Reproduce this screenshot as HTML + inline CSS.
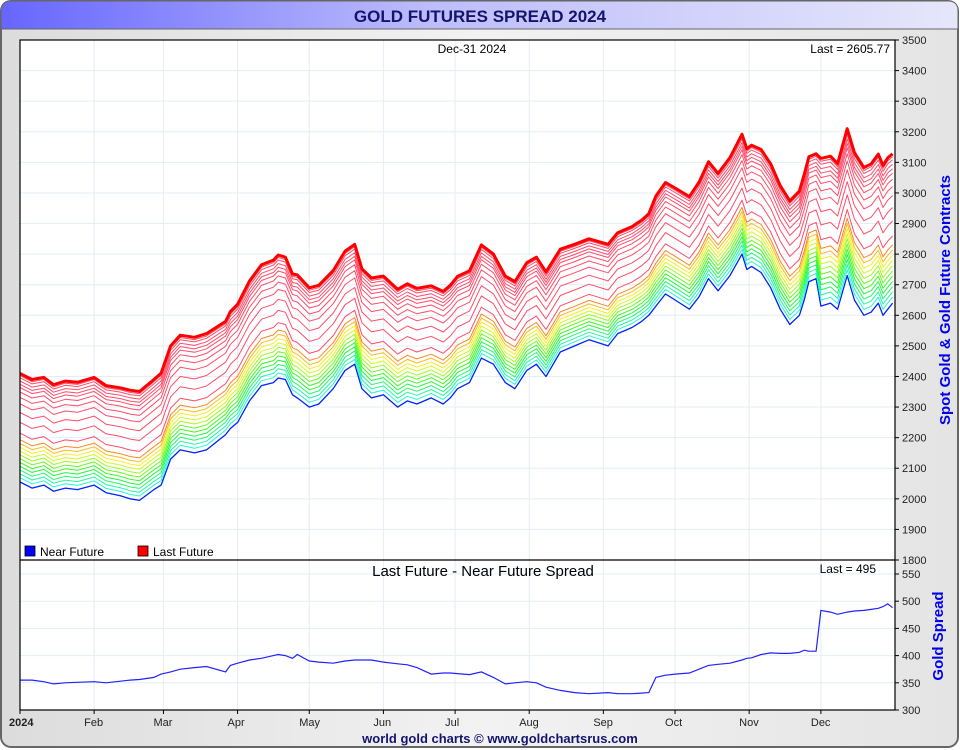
<!DOCTYPE html>
<html><head><meta charset="utf-8"><style>
html,body{margin:0;padding:0;width:960px;height:750px;overflow:hidden;background:#fff;font-family:"Liberation Sans",sans-serif}
</style></head><body>
<svg id="chart" width="960" height="750" xmlns="http://www.w3.org/2000/svg" font-family="Liberation Sans, sans-serif">
<defs>
<linearGradient id="tb" x1="0" x2="1" y1="0" y2="0"><stop offset="0" stop-color="#6666ff"/><stop offset="0.45" stop-color="#bdbdfb"/><stop offset="1" stop-color="#e6e6fb"/></linearGradient>
<linearGradient id="bg" x1="0" x2="1" y1="0" y2="0"><stop offset="0" stop-color="#dcdcdc"/><stop offset="0.5" stop-color="#f2f2f2"/><stop offset="1" stop-color="#e4e4e4"/></linearGradient>
</defs>
<rect x="1" y="1" width="957" height="746" rx="10" fill="url(#bg)" stroke="#666" stroke-width="2"/>
<path d="M1,29 L1,11 Q1,1 11,1 L948,1 Q958,1 958,11 L958,29 Z" fill="url(#tb)" stroke="#666" stroke-width="1"/>
<text x="480" y="22" text-anchor="middle" font-size="17" font-weight="bold" fill="#14146e">GOLD FUTURES SPREAD 2024</text>
<rect x="20" y="40" width="875" height="670" fill="#fff"/>
<g id="grid"></g>
<g id="series"></g>
<rect x="20" y="40" width="875" height="670" fill="none" stroke="#000" stroke-width="1.2"/>
<line x1="20" y1="560" x2="895" y2="560" stroke="#000" stroke-width="1.2"/>
<g id="axes"></g>
<text x="472" y="53" text-anchor="middle" font-size="12">Dec-31  2024</text>
<text x="890" y="53" text-anchor="end" font-size="12">Last = 2605.77</text>
<rect x="25" y="546" width="10" height="10" fill="#0000ff" stroke="#000" stroke-width="0.8"/>
<text x="40" y="556" font-size="12">Near Future</text>
<rect x="138" y="546" width="10" height="10" fill="#ff0000" stroke="#000" stroke-width="0.8"/>
<text x="153" y="556" font-size="12">Last Future</text>
<text x="483" y="576" text-anchor="middle" font-size="15">Last Future - Near Future Spread</text>
<text x="876" y="573" text-anchor="end" font-size="12">Last = 495</text>
<text transform="translate(950,300) rotate(-90)" text-anchor="middle" font-size="15" font-weight="bold" fill="#0000ee">Spot Gold &amp; Gold Future Contracts</text>
<text transform="translate(943,636) rotate(-90)" text-anchor="middle" font-size="15" font-weight="bold" fill="#0000ee">Gold Spread</text>
<text x="500" y="743" text-anchor="middle" font-size="13" font-weight="bold" fill="#14146e">world gold charts © www.goldchartsrus.com</text>
</svg>
<script>
const days = [0,5,10,14,19,24,31,36,42,46,50,56,59,63,67,73,78,86,88,91,96,101,106,108,111,114,116,121,125,131,136,140,143,147,152,158,162,166,172,177,180,183,188,193,198,203,207,212,216,220,226,232,238,246,250,256,260,263,266,270,274,280,284,288,292,297,302,304,306,310,314,318,322,326,328,330,333,335,339,342,346,349,353,356,359,361,363,365];
const nearValues = [2055,2035,2045,2025,2035,2030,2045,2020,2010,2000,1995,2030,2045,2130,2160,2150,2160,2210,2230,2250,2320,2370,2380,2395,2390,2340,2330,2300,2310,2360,2420,2440,2360,2330,2340,2300,2320,2310,2330,2310,2330,2360,2380,2460,2440,2380,2360,2420,2440,2400,2480,2500,2520,2500,2540,2560,2580,2600,2630,2670,2650,2620,2660,2720,2680,2730,2800,2750,2760,2740,2690,2620,2570,2600,2650,2710,2720,2630,2640,2620,2730,2650,2600,2610,2640,2600,2620,2640];
const spreadValues = [355,355,352,348,350,351,352,350,353,355,356,360,366,370,375,378,380,370,382,386,392,395,400,402,400,395,402,390,388,386,390,392,392,392,388,385,383,378,366,368,368,367,365,370,360,348,350,352,350,342,336,332,330,332,330,330,331,332,360,364,366,368,375,382,384,386,392,395,396,402,405,404,404,406,410,408,408,483,480,476,480,482,483,485,487,490,495,488,493,495];
const priceTicks = [1800,1900,2000,2100,2200,2300,2400,2500,2600,2700,2800,2900,3000,3100,3200,3300,3400,3500];
const spreadTicks = [300,350,400,450,500,550];
const monthLabels = ["2024","Feb","Mar","Apr","May","Jun","Jul","Aug","Sep","Oct","Nov","Dec"];
const monthDays = [0,31,60,91,121,152,182,213,244,274,305,335];
const contractFractions = [0,0.04,0.075,0.11,0.145,0.18,0.215,0.25,0.285,0.32,0.355,0.39,0.45,0.55,0.64,0.72,0.78,0.83,0.87,0.9,0.93,0.96,0.98,1];

const NS="http://www.w3.org/2000/svg";
const X=d=>20+d*(875/366);
const YP=v=>560-(v-1800)*520/1700;
const YS=v=>710-(v-300)*136/250;
function mk(tag,attrs,parent){const e=document.createElementNS(NS,tag);for(const k in attrs)e.setAttribute(k,attrs[k]);parent.appendChild(e);return e;}
const grid=document.getElementById('grid'),axes=document.getElementById('axes'),series=document.getElementById('series');
priceTicks.forEach(t=>{
  if(t>1800&&t<3500){const l=mk('line',{x1:20,x2:895,y1:YP(t),y2:YP(t),stroke:'#e3eef6'},grid);
  
  }
  mk('line',{x1:895,x2:899,y1:YP(t),y2:YP(t),stroke:'#000'},axes);
  const tx=mk('text',{x:902,y:YP(t)+4,'font-size':11,fill:'#222'},axes);tx.textContent=t;
  
  
});
spreadTicks.forEach(t=>{
  if(t>300){const l=mk('line',{x1:20,x2:895,y1:YS(t),y2:YS(t),stroke:'#e3eef6'},grid);
  
  }
  mk('line',{x1:895,x2:899,y1:YS(t),y2:YS(t),stroke:'#000'},axes);
  const tx=mk('text',{x:902,y:YS(t)+4,'font-size':11,fill:'#222'},axes);tx.textContent=t;
  
  
});
monthDays.forEach((d,i)=>{
  if(i>0){const l=mk('line',{x1:X(d),x2:X(d),y1:40,y2:710,stroke:'#e3eef6'},grid);
  
  }
  mk('line',{x1:X(d),x2:X(d),y1:710,y2:714,stroke:'#000'},axes);
  const tx=mk('text',{x:i==0?9:X(d)-10,y:726,'font-size':11,fill:'#222','font-weight':i==0?'bold':'normal'},axes);tx.textContent=monthLabels[i];
  
  
});
function colorFor(f){
  if(f===0)return '#0022ff';
  if(f===1)return '#ff0000';
  if(f>=0.42)return '#ff4d6a';
  const hue=185-(f/0.4)*160;
  return 'hsl('+hue+',95%,55%)';
}
contractFractions.forEach((f,ci)=>{
  const pts=days.map((d,i)=>X(d).toFixed(1)+','+YP(nearValues[i]+spreadValues[i]*f).toFixed(1)).join(' ');
  const pl=mk('polyline',{points:pts,fill:'none',stroke:colorFor(f),'stroke-width':f===1?3:(f===0?1.3:1),'stroke-linejoin':'round'},series);
  
  
});
const sp=mk('polyline',{points:days.map((d,i)=>X(d).toFixed(1)+','+YS(spreadValues[i]).toFixed(1)).join(' '),fill:'none',stroke:'#2222ff','stroke-width':1.2},series);


</script>
</body></html>
